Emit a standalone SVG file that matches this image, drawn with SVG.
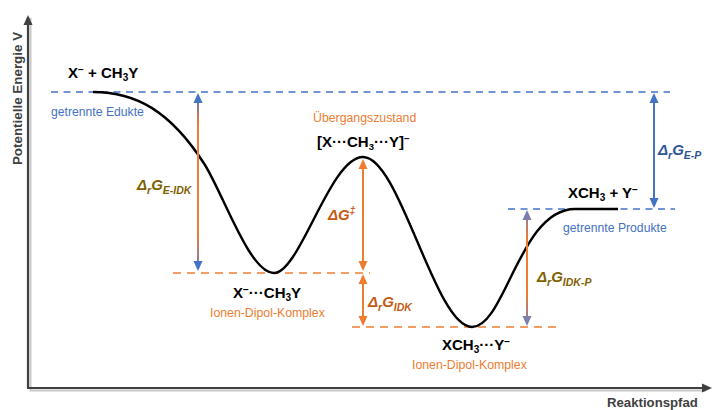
<svg xmlns="http://www.w3.org/2000/svg" width="715" height="410" viewBox="0 0 715 410">
<style>
text{font-family:"Liberation Sans",Arial,sans-serif}
.bold{font-weight:bold;font-size:15px;fill:#000}
.blue{font-size:12.2px;fill:#4472C4}
.orange{font-size:12.3px;fill:#ED7D31}
.delta{font-weight:bold;font-style:italic;font-size:15px}
.sub{font-size:10.5px}
.dashB{stroke:#4472C4;stroke-width:1.5;stroke-dasharray:7 5.5;fill:none}
.dashO{stroke:#ED7D31;stroke-width:1.5;stroke-dasharray:8 6;fill:none}
.arr{stroke-width:2;fill:none}
.axis{fill:none;stroke:#404040;stroke-width:2.2}
.shadow{fill:none;stroke:#c8c8c8;stroke-width:2}
</style>
<defs>
<marker id="mBlue" viewBox="0 0 10 10" markerUnits="userSpaceOnUse" markerWidth="10" markerHeight="10" refX="8" refY="5" orient="auto-start-reverse"><path d="M0,0.5 L10,5 L0,9.5 z" fill="#4472C4"/></marker>
<marker id="mOrange" viewBox="0 0 10 10" markerUnits="userSpaceOnUse" markerWidth="10" markerHeight="10" refX="8" refY="5" orient="auto-start-reverse"><path d="M0,0.5 L10,5 L0,9.5 z" fill="#ED7D31"/></marker>
<marker id="mGray" viewBox="0 0 10 10" markerUnits="userSpaceOnUse" markerWidth="10" markerHeight="10" refX="8" refY="5" orient="auto-start-reverse"><path d="M0,0.5 L10,5 L0,9.5 z" fill="#7B7FB0"/></marker>
<marker id="mAxis" viewBox="0 0 10 10" markerUnits="userSpaceOnUse" markerWidth="10" markerHeight="10" refX="8" refY="5" orient="auto"><path d="M0,0.5 L10,5 L0,9.5 z" fill="#404040"/></marker>
<linearGradient id="gEIDK" gradientUnits="userSpaceOnUse" x1="0" y1="92" x2="0" y2="272">
<stop offset="0" stop-color="#4472C4"/><stop offset="0.18" stop-color="#ED7D31"/><stop offset="0.78" stop-color="#ED7D31"/><stop offset="1" stop-color="#6B7BBF"/>
</linearGradient>
<linearGradient id="gIDKP" gradientUnits="userSpaceOnUse" x1="0" y1="209" x2="0" y2="327">
<stop offset="0" stop-color="#7B7FB0"/><stop offset="0.25" stop-color="#ED7D31"/><stop offset="0.72" stop-color="#ED7D31"/><stop offset="1" stop-color="#7B7FB0"/>
</linearGradient>
</defs>

<g id="axes">
<path class="shadow" d="M30.5,18 V390.5 H706"/>
<path class="axis" d="M28,388 V17" marker-end="url(#mAxis)"/>
<path class="axis" d="M27,388 H710" marker-end="url(#mAxis)"/>
<text x="0" y="0" transform="translate(22,98.5) rotate(-90)" text-anchor="middle" font-weight="bold" font-size="13.4" fill="#404040">Potentielle Energie V</text>
<text x="607" y="407" font-weight="bold" font-size="13.2" fill="#404040">Reaktionspfad</text>
</g>

<g id="levels">
<line class="dashB" x1="51" y1="92" x2="670" y2="92"/>
<line class="dashB" x1="508" y1="209" x2="675" y2="209"/>
<line class="dashO" x1="173" y1="273" x2="370" y2="273"/>
<line class="dashO" x1="352" y1="327" x2="560" y2="327"/>
</g>

<g id="curve">
<path d="M93,92 C135,92 170,110 205,165 C225,198 250,273 274,273 C300,273 330,157 363,157 C400,157 435,327 472,327 C505,327 520,209 575,209 L618,209" fill="none" stroke="#000" stroke-width="2.4"/>
</g>

<g id="connectors">
<line class="arr" x1="198" y1="95" x2="198" y2="269" stroke="url(#gEIDK)" marker-start="url(#mBlue)" marker-end="url(#mBlue)"/>
<line class="arr" x1="363" y1="161" x2="363" y2="269" stroke="#ED7D31" marker-start="url(#mOrange)" marker-end="url(#mOrange)"/>
<line class="arr" x1="363" y1="276" x2="363" y2="324" stroke="#ED7D31" marker-start="url(#mOrange)" marker-end="url(#mOrange)"/>
<line class="arr" x1="527" y1="212" x2="527" y2="324" stroke="url(#gIDKP)" marker-start="url(#mGray)" marker-end="url(#mGray)"/>
<line class="arr" x1="654" y1="95" x2="654" y2="206" stroke="#4472C4" marker-start="url(#mBlue)" marker-end="url(#mBlue)"/>
</g>

<g id="edukte">
<text class="bold" x="68" y="78">X<tspan font-size="10" dy="-5.5">−</tspan><tspan dy="5.5"> + CH</tspan><tspan font-size="10" dy="3">3</tspan><tspan dy="-3">Y</tspan></text>
<text class="blue" x="51" y="116">getrennte Edukte</text>
</g>

<g id="uebergangszustand">
<text class="orange" x="313" y="122" font-size="12">Übergangszustand</text>
<text class="bold" x="317" y="147" font-size="14">[X···CH<tspan font-size="9.5" dy="3">3</tspan><tspan dy="-3">···Y]</tspan><tspan font-size="9.5" dy="-5.5">−</tspan></text>
</g>

<g id="idk1">
<text class="bold" x="233" y="298">X<tspan font-size="10" dy="-5.5">−</tspan><tspan dy="5.5">···CH</tspan><tspan font-size="10" dy="3">3</tspan><tspan dy="-3">Y</tspan></text>
<text class="orange" x="210" y="317">Ionen-Dipol-Komplex</text>
</g>

<g id="idk2">
<text class="bold" x="442" y="350">XCH<tspan font-size="10" dy="3">3</tspan><tspan dy="-3">···Y</tspan><tspan font-size="10" dy="-5.5">−</tspan></text>
<text class="orange" x="412" y="369">Ionen-Dipol-Komplex</text>
</g>

<g id="produkte">
<text class="bold" x="568" y="198">XCH<tspan font-size="10" dy="3">3</tspan><tspan dy="-3"> + Y</tspan><tspan font-size="10" dy="-5.5">−</tspan></text>
<text class="blue" x="563" y="232" font-size="12">getrennte Produkte</text>
</g>

<g id="label-E-IDK">
<text class="delta" x="137" y="190" fill="#7F6000">Δ<tspan class="sub" dy="4">r</tspan><tspan dy="-4">G</tspan><tspan class="sub" dy="4">E-IDK</tspan></text>
</g>
<g id="label-TS">
<text class="delta" x="328" y="220" fill="#C55A11">ΔG<tspan font-size="10" dy="-6">‡</tspan></text>
</g>
<g id="label-IDK">
<text class="delta" x="368" y="307" fill="#C55A11">Δ<tspan class="sub" dy="4">r</tspan><tspan dy="-4">G</tspan><tspan class="sub" dy="4">IDK</tspan></text>
</g>
<g id="label-IDK-P">
<text class="delta" x="537" y="282" fill="#7F6000">Δ<tspan class="sub" dy="4">r</tspan><tspan dy="-4">G</tspan><tspan class="sub" dy="4">IDK-P</tspan></text>
</g>
<g id="label-E-P">
<text class="delta" x="658" y="155" fill="#2F5597">Δ<tspan class="sub" dy="4">r</tspan><tspan dy="-4">G</tspan><tspan class="sub" dy="4">E-P</tspan></text>
</g>
</svg>
